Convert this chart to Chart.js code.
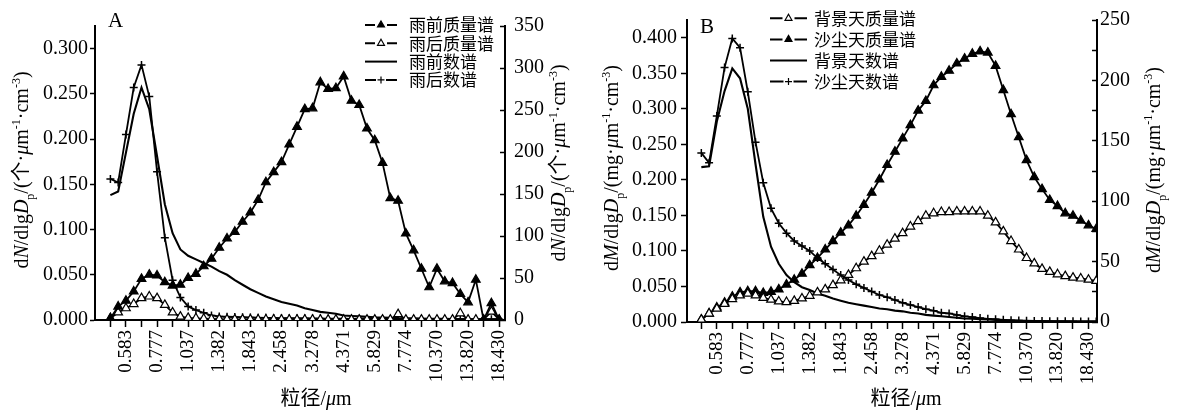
<!DOCTYPE html>
<html>
<head>
<meta charset="utf-8">
<script src="https://cdn.jsdelivr.net/npm/chart.js@4.4.0/dist/chart.umd.min.js"></script>
<style>
  html, body { margin: 0; padding: 0; background: #fff; }
  #wrap { display: flex; width: 1180px; height: 412px; }
  canvas { display: block; }
</style>
</head>
<body>
<div id="wrap">
  <canvas id="chartA" width="590" height="412"></canvas>
  <canvas id="chartB" width="590" height="412"></canvas>
</div>
<script>
// APS channel midpoints (um); every 4th one is labelled
const sizes = [
  "0.523", "0.542", "0.583", "0.626", "0.673", "0.723", "0.777", "0.835", "0.898", "0.965",
  "1.037", "1.114", "1.197", "1.286", "1.382", "1.486", "1.596", "1.715", "1.843", "1.981",
  "2.129", "2.288", "2.458", "2.642", "2.839", "3.051", "3.278", "3.523", "3.786", "4.068",
  "4.371", "4.698", "5.048", "5.425", "5.829", "6.264", "6.732", "7.234", "7.774", "8.354",
  "8.977", "9.647", "10.370", "11.140", "11.970", "12.860", "13.820", "14.860", "15.960", "17.150",
  "18.430", "19.810"
];

// panel A
const preMassA = [
  2, 16, 23, 34, 49, 54, 53, 45, 41, 42,
  50, 55, 64, 73, 86, 97, 105, 117, 128, 143,
  164, 176, 188, 209, 230, 251, 252, 283, 275, 276,
  290, 261, 256, 228, 214, 187, 145, 142, 103, 83,
  61, 39, 61, 46, 44, 31, 21, 48, 0, 20,
  0
];
const postMassA = [
  2, 9, 14, 19, 26, 28, 26, 18, 9, 4,
  2.5, 2, 1.5, 1.2, 1, 0.8, 0.8, 0.7, 0.7, 0.6,
  0.6, 0.6, 0.5, 0.5, 0.5, 0.5, 0.5, 0.5, 0.5, 0.5,
  0.5, 0.5, 0.5, 0.5, 0.5, 0.5, 0.5, 7, 0.5, 0.5,
  0.5, 0.5, 0.5, 0.5, 0.5, 8, 0.5, 0.5, 0.5, 10,
  0.5
];
const preNumA = [
  0.138, 0.142, 0.185, 0.228, 0.257, 0.233, 0.181, 0.128, 0.096, 0.078,
  0.071, 0.067, 0.063, 0.059, 0.054, 0.050, 0.044, 0.039, 0.034, 0.030,
  0.026, 0.023, 0.020, 0.018, 0.016, 0.013, 0.011, 0.009, 0.008, 0.007,
  0.005, 0.0045, 0.004, 0.0035, 0.003, 0.0027, 0.0024, 0.0021, 0.002, 0.0018,
  0.0016, 0.0014, 0.0013, 0.0012, 0.0011, 0.001, 0.0009, 0.0009, 0.0008, 0.0008,
  0.0007
];
const postNumA = [
  0.156, 0.152, 0.205, 0.257, 0.282, 0.247, 0.164, 0.091, 0.044, 0.025,
  0.015, 0.011, 0.008, 0.005, 0.004, 0.0036, 0.0033, 0.003, 0.0028, 0.0026,
  0.0024, 0.0022, 0.002, 0.002, 0.0019, 0.0018, 0.0017, 0.0016, 0.0015, 0.0015,
  0.0014, 0.0013, 0.0013, 0.0012, 0.0012, 0.0011, 0.0011, 0.001, 0.001, 0.001,
  0.001, 0.0009, 0.0009, 0.0009, 0.0008, 0.0008, 0.0008, 0.0008, 0.0007, 0.0007,
  0.0007
];

// panel B
const bgMassB = [
  2, 7, 11, 15, 19, 22, 23.5, 22, 20, 18.5,
  17, 16.5, 17.5, 19.5, 21.7, 24.5, 27, 30.5, 34.5, 39,
  44.5, 50, 54.5, 59, 64, 69, 73.5, 79, 83.5, 88,
  90, 91, 91, 91.5, 91.5, 91.5, 91.5, 88, 82.5, 75,
  67, 60, 53, 48.5, 44, 41.5, 39.5, 38, 36.7, 36,
  35, 34
];
const dustMassB = [
  2, 7, 12, 16, 21, 24.5, 25.5, 25.5, 24, 25,
  27, 31, 35, 40, 47, 53, 60, 67, 74, 80,
  88, 97, 107, 118, 130, 141, 152, 163, 175, 183,
  196, 203, 208, 214, 218, 222, 224, 223, 212, 192,
  172, 153, 134, 120, 110, 101, 96, 90, 88, 84,
  80, 77
];
const bgNumB = [
  0.218, 0.219, 0.282, 0.325, 0.357, 0.343, 0.300, 0.222, 0.148, 0.106,
  0.082, 0.066, 0.056, 0.049, 0.045, 0.040, 0.037, 0.033, 0.030, 0.027,
  0.025, 0.023, 0.021, 0.019, 0.018, 0.016, 0.015, 0.013, 0.012, 0.010,
  0.009, 0.008, 0.007, 0.006, 0.005, 0.0045, 0.004, 0.0035, 0.003, 0.0025,
  0.002, 0.0018, 0.0015, 0.0013, 0.0012, 0.001, 0.001, 0.0009, 0.0008, 0.0008,
  0.0007, 0.0007
];
const dustNumB = [
  0.238, 0.224, 0.290, 0.358, 0.399, 0.386, 0.324, 0.253, 0.196, 0.160,
  0.139, 0.125, 0.114, 0.107, 0.100, 0.090, 0.082, 0.074, 0.066, 0.059,
  0.053, 0.048, 0.043, 0.038, 0.035, 0.031, 0.027, 0.024, 0.021, 0.018,
  0.016, 0.013, 0.012, 0.010, 0.008, 0.007, 0.0055, 0.0045, 0.004, 0.003,
  0.0025, 0.002, 0.0018, 0.0015, 0.0013, 0.0012, 0.001, 0.001, 0.0009, 0.0008,
  0.0008, 0.0007
];

const SERIF = '"Liberation Serif", "Noto Sans CJK SC", serif';
const CJK = '"Noto Sans CJK SC", sans-serif';

const titleN = [
  { t: "d" }, { t: "N", it: 1 }, { t: "/dlg" }, { t: "D", it: 1 }, { t: "p", sub: 1 },
  { t: "/(个·" }, { t: "μ", it: 1 }, { t: "m" }, { t: "-1", sup: 1 }, { t: "·cm" }, { t: "-3", sup: 1 }, { t: ")" }
];
const titleM = [
  { t: "d" }, { t: "M", it: 1 }, { t: "/dlg" }, { t: "D", it: 1 }, { t: "p", sub: 1 },
  { t: "/(mg·" }, { t: "μ", it: 1 }, { t: "m" }, { t: "-1", sup: 1 }, { t: "·cm" }, { t: "-3", sup: 1 }, { t: ")" }
];
const titleX = [{ t: "粒径/" }, { t: "μ", it: 1 }, { t: "m" }];

const pts = (arr) => arr.map((v, i) => ({ x: i, y: v }));

function richFont(s, size) {
  const sz = s.sub || s.sup ? Math.round(size * 0.62) : size;
  return `${s.it ? "italic " : ""}${sz}px ${SERIF}`;
}

function drawRich(ctx, segs, x, y, size, vertical) {
  ctx.save();
  ctx.translate(x, y);
  if (vertical) ctx.rotate(-Math.PI / 2);
  ctx.fillStyle = "#000";
  ctx.textBaseline = "alphabetic";
  let w = 0;
  segs.forEach((s) => { ctx.font = richFont(s, size); w += ctx.measureText(s.t).width; });
  let cx = -w / 2;
  segs.forEach((s) => {
    ctx.font = richFont(s, size);
    const dy = s.sub ? size * 0.28 : s.sup ? -size * 0.4 : 0;
    ctx.fillText(s.t, cx, size * 0.35 + dy);
    cx += ctx.measureText(s.t).width;
  });
  ctx.restore();
}

function drawMarker(ctx, style, x, y, r, fill) {
  ctx.beginPath();
  if (style === "triangle") {
    for (let k = 0; k < 3; k++) {
      const a = (k * 2 * Math.PI) / 3;
      const px = x + Math.sin(a) * r, py = y - Math.cos(a) * r;
      k ? ctx.lineTo(px, py) : ctx.moveTo(px, py);
    }
    ctx.closePath();
    ctx.fillStyle = fill;
    ctx.fill();
    ctx.stroke();
  } else {
    ctx.moveTo(x - r, y); ctx.lineTo(x + r, y);
    ctx.moveTo(x, y - r); ctx.lineTo(x, y + r);
    ctx.stroke();
  }
}

// legend, axis titles and panel letter drawn on top of the chart
function decor(d) {
  return {
    id: "decor" + d.letter,
    afterDraw(chart) {
      const ctx = chart.ctx;
      ctx.save();
      ctx.fillStyle = "#000";
      ctx.font = `21px ${SERIF}`;
      ctx.textBaseline = "middle";
      ctx.fillText(d.letter, d.letterPos[0], d.letterPos[1]);

      drawRich(ctx, d.yTitle, d.leftTitle[0], d.leftTitle[1], 20, true);
      drawRich(ctx, d.yTitle, d.rightTitle[0], d.rightTitle[1], 20, true);
      drawRich(ctx, titleX, d.xTitle[0], d.xTitle[1], 20, false);

      const L = d.legend;
      chart.data.datasets.forEach((ds, k) => {
        const y = L.y + k * L.dy;
        ctx.strokeStyle = "#000";
        ctx.lineWidth = 2;
        if (ds.pointRadius > 0) {
          const cx = L.x + L.w / 2, gap = ds.pointRadius + 1;
          ctx.beginPath();
          ctx.moveTo(L.x, y); ctx.lineTo(cx - gap, y);
          ctx.moveTo(cx + gap, y); ctx.lineTo(L.x + L.w, y);
          ctx.stroke();
          ctx.lineWidth = 1.2;
          drawMarker(ctx, ds.pointStyle, cx, y, ds.pointStyle === "cross" ? 3.5 : 4, ds.pointBackgroundColor);
        } else {
          ctx.beginPath();
          ctx.moveTo(L.x, y); ctx.lineTo(L.x + L.w, y);
          ctx.stroke();
        }
        ctx.fillStyle = "#000";
        ctx.font = `17px ${CJK}`;
        ctx.textBaseline = "middle";
        ctx.fillText(ds.label, L.textX, y);
      });
      ctx.restore();
    }
  };
}

function markSeries(label, values, axis, style, fill) {
  const cross = style === "cross";
  return {
    label, data: pts(values), yAxisID: axis,
    borderColor: "#000", borderWidth: 1.8,
    pointStyle: style, pointRadius: cross ? 4 : 5,
    pointBackgroundColor: fill, pointBorderColor: "#000", pointBorderWidth: cross ? 1.5 : 1.2
  };
}

function lineSeries(label, values, axis) {
  return { label, data: pts(values), yAxisID: axis, borderColor: "#000", borderWidth: 2.1, pointRadius: 0 };
}

function yAxis(pos, max, step, width, tickLen, pad, fmt) {
  return {
    type: "linear", position: pos, min: 0, max,
    afterFit: (s) => { s.width = width; },
    ticks: {
      stepSize: step, includeBounds: false, padding: pad, color: "#000",
      font: { family: SERIF, size: 20 }, callback: fmt
    },
    grid: { drawOnChartArea: false, tickLength: tickLen, tickColor: "#000", tickWidth: 1.5 },
    border: { color: "#000", width: 2 }
  };
}

function xAxis(min, max, height) {
  return {
    type: "linear", min, max,
    afterFit: (s) => { s.height = height; },
    afterBuildTicks: (s) => {
      s.ticks = sizes.map((_, i) => ({ value: i })).filter((t) => t.value % 2 === 0);
    },
    ticks: {
      autoSkip: false, minRotation: 90, maxRotation: 90, padding: 3, color: "#000",
      font: { family: SERIF, size: 19 },
      callback: (v) => (v % 4 === 2 ? sizes[v] : "")
    },
    grid: { drawOnChartArea: false, tickLength: 7, tickColor: "#000", tickWidth: 1.5 },
    border: { color: "#000", width: 2 }
  };
}

function makeChart(id, datasets, scales, d) {
  return new Chart(document.getElementById(id), {
    type: "line",
    data: { datasets },
    options: {
      responsive: false, animation: false, devicePixelRatio: 1, events: [],
      layout: { padding: { top: 15, left: 0, right: 0, bottom: 0 } },
      plugins: { legend: { display: false }, tooltip: { enabled: false } },
      scales
    },
    plugins: [decor(d)]
  });
}

makeChart("chartA", [
  markSeries("雨前质量谱", preMassA, "yR", "triangle", "#000"),
  markSeries("雨后质量谱", postMassA, "yR", "triangle", "#fff"),
  lineSeries("雨前数谱", preNumA, "yL"),
  markSeries("雨后数谱", postNumA, "yL", "cross", "#000")
], {
  x: xAxis(-1.98, 50.75, 92),
  yL: yAxis("left", 0.325, 0.05, 95, 5, 2, (v) => v.toFixed(3)),
  yR: yAxis("right", 350, 25, 85, -5, 14, (v) => (v % 50 === 0 ? v : ""))
}, {
  letter: "A", letterPos: [108, 21],
  yTitle: titleN, leftTitle: [21, 170], rightTitle: [558, 163], xTitle: [316, 398],
  legend: { x: 365, w: 32, textX: 409, y: 25, dy: 18.3 }
});

makeChart("chartB", [
  markSeries("背景天质量谱", bgMassB, "yR", "triangle", "#fff"),
  markSeries("沙尘天质量谱", dustMassB, "yR", "triangle", "#000"),
  lineSeries("背景天数谱", bgNumB, "yL"),
  markSeries("沙尘天数谱", dustNumB, "yL", "cross", "#000")
], {
  x: xAxis(-1.85, 51.1, 90),
  yL: yAxis("left", 0.425, 0.05, 97, 6, 4, (v) => v.toFixed(3)),
  yR: yAxis("right", 250, 25, 83, -5, 8, (v) => (v % 50 === 0 ? v : ""))
}, {
  letter: "B", letterPos: [110, 27],
  yTitle: titleM, leftTitle: [21, 168], rightTitle: [563, 170], xTitle: [316, 398],
  legend: { x: 180, w: 37, textX: 224, y: 18.3, dy: 21.1 }
});
</script>
</body>
</html>
